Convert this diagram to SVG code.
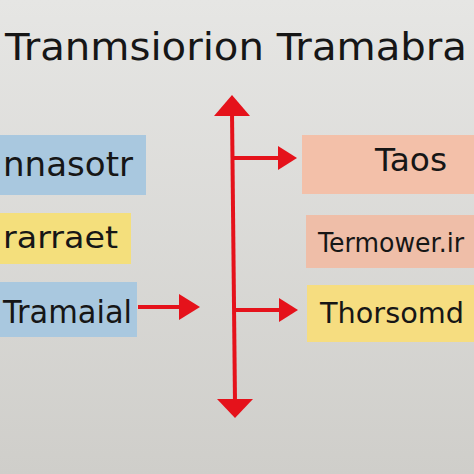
<svg xmlns="http://www.w3.org/2000/svg" width="474" height="474" viewBox="0 0 474 474">
<defs>
<linearGradient id="bg" x1="0" y1="0" x2="0" y2="1">
<stop offset="0" stop-color="#e6e6e4"/>
<stop offset="1" stop-color="#cfceca"/>
</linearGradient>
<style>
.t{font-family:"DejaVu Sans","Liberation Sans",sans-serif;fill:#161616;}
.ln{stroke:#e5121b;stroke-width:4;fill:none;}
.hd{fill:#e5121b;}
</style>
</defs>
<rect width="474" height="474" fill="url(#bg)"/>
<text class="t" x="5" y="60" font-size="37" textLength="462" lengthAdjust="spacingAndGlyphs">Tranmsiorion Tramabra</text>
<g id="n1"><rect x="-2" y="135" width="148" height="60" fill="#a9c8df"/><text class="t" x="3" y="176" font-size="33" textLength="130" lengthAdjust="spacingAndGlyphs">nnasotr</text></g>
<g id="n2"><rect x="-2" y="213" width="133" height="51" fill="#f4df7c"/><text class="t" x="3" y="248" font-size="31" textLength="115" lengthAdjust="spacingAndGlyphs">rarraet</text></g>
<g id="n3"><rect x="-2" y="282" width="139" height="55" fill="#a9c8df"/><text class="t" x="3" y="323" font-size="32" textLength="129" lengthAdjust="spacingAndGlyphs">Tramaial</text></g>
<g id="n4"><rect x="302" y="135" width="174" height="59" fill="#f3c0a9"/><text class="t" x="375" y="171" font-size="32" textLength="72" lengthAdjust="spacingAndGlyphs">Taos</text></g>
<g id="n5"><rect x="306" y="215" width="170" height="53" fill="#efbea8"/><text class="t" x="318" y="252" font-size="26" textLength="146" lengthAdjust="spacingAndGlyphs">Termower.ir</text></g>
<g id="n6"><rect x="307" y="285" width="169" height="57" fill="#f6dd80"/><text class="t" x="320" y="323" font-size="29" textLength="144" lengthAdjust="spacingAndGlyphs">Thorsomd</text></g>
<g id="connectors">
<path class="ln" d="M232,112 L235,402"/>
<path class="hd" d="M232,95 L250,116 L214,116 Z"/>
<path class="hd" d="M235,418 L253,399 L217,399 Z"/>
<path class="ln" d="M233,158 L280,158"/>
<path class="hd" d="M297,158 L278,146 L278,170 Z"/>
<path class="ln" d="M236,310 L281,310"/>
<path class="hd" d="M298,310 L279,298 L279,322 Z"/>
<path class="ln" d="M138,307 L182,307"/>
<path class="hd" d="M200,307 L179,294 L179,320 Z"/>
</g>
</svg>
